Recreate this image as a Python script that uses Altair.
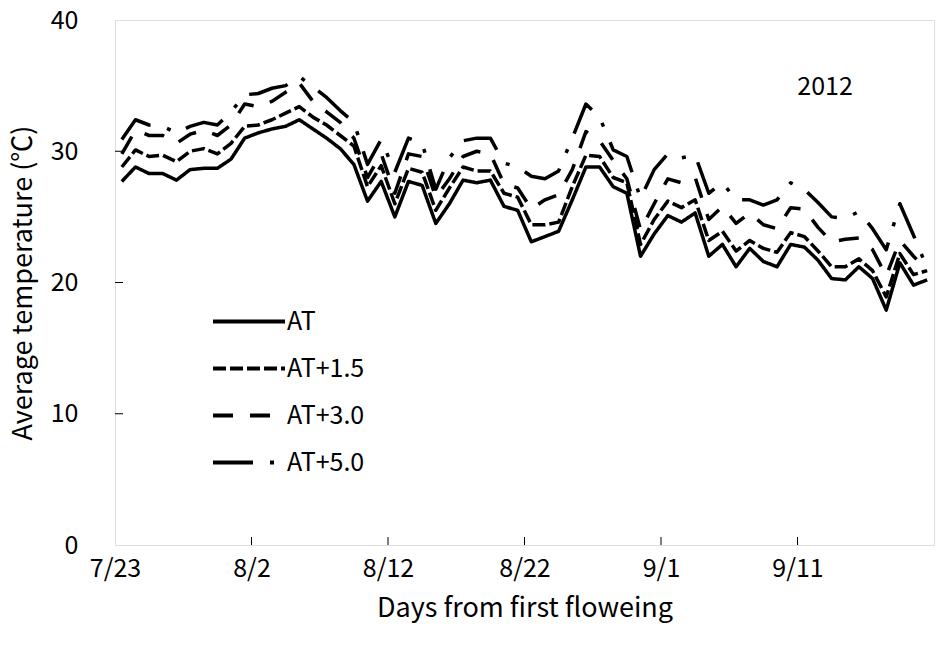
import altair as alt
import pandas as pd

FONT = "Noto Sans CJK KR"
FS = 25
TFS = 27

# ---- data ----
series_names = ["AT", "AT+1.5", "AT+3.0", "AT+5.0"]
tick_days = [0, 10, 20, 30, 40, 50]
tick_labels = ["7/23", "8/2", "8/12", "8/22", "9/1", "9/11"]
y_ticks = [0, 10, 20, 30, 40]
year_label = ["2012"]
days = list(range(60))

at = [27.7, 28.8, 28.3, 28.3, 27.8, 28.6, 28.7, 28.7, 29.4, 31.0,
      31.4, 31.7, 31.9, 32.4, 31.7, 31.0, 30.2, 29.0, 26.2, 27.7,
      25.0, 27.7, 27.4, 24.5, 26.0, 27.8, 27.6, 27.8, 25.8, 25.5,
      23.1, 23.5, 23.9, 26.3, 28.8, 28.8, 27.3, 26.8, 22.0, 23.7,
      25.1, 24.6, 25.3, 22.0, 22.9, 21.2, 22.6, 21.6, 21.2, 22.9,
      22.7, 21.7, 20.3, 20.2, 21.2, 20.3, 17.9, 21.5, 19.8, 20.2]

at15 = [28.8, 30.1, 29.6, 29.7, 29.2, 30.0, 30.2, 29.8, 30.6, 31.9,
        32.0, 32.4, 32.9, 33.4, 32.6, 32.0, 31.2, 30.4, 27.3, 28.9,
        26.0, 28.7, 28.4, 25.5, 27.2, 28.8, 28.5, 28.5, 26.8, 26.5,
        24.4, 24.4, 24.6, 27.3, 29.7, 29.6, 28.0, 27.6, 22.9, 24.8,
        26.2, 25.7, 26.3, 23.2, 23.9, 22.4, 23.2, 22.6, 22.3, 23.8,
        23.5, 22.4, 21.2, 21.2, 21.8, 20.9, 18.9, 22.2, 20.6, 20.9]

at30 = [29.8, 31.6, 31.2, 31.2, 30.6, 31.3, 31.6, 31.2, 32.0, 33.6,
        33.4, 33.8, 34.5, 35.2, 33.8, 33.0, 32.2, 31.0, 28.0, 29.8,
        26.8, 29.8, 29.6, 26.5, 27.9, 29.6, 30.0, 29.8, 27.5, 27.2,
        25.6, 26.3, 26.7, 28.6, 31.5, 30.8, 29.3, 27.9, 24.0, 26.0,
        27.9, 27.6, 28.0, 24.8, 25.8, 24.5, 25.3, 24.4, 24.1, 25.7,
        25.6, 24.2, 23.1, 23.3, 23.4, 22.5, 20.5, 23.2, 22.0, 20.9]

at50 = [30.9, 32.4, 32.0, 31.9, 31.4, 31.9, 32.2, 32.0, 33.0, 34.3,
        34.4, 34.8, 35.0, 35.7, 34.9, 34.1, 33.1, 32.2, 29.0, 30.9,
        28.4, 31.0, 30.6, 27.1, 29.5, 30.8, 31.0, 31.0, 29.1, 28.8,
        28.1, 27.9, 28.5, 31.0, 33.6, 32.6, 30.1, 29.6, 26.4, 28.6,
        29.8, 29.5, 29.7, 26.8, 27.6, 26.3, 26.3, 25.9, 26.3, 27.6,
        27.1, 26.1, 25.0, 24.9, 25.4, 24.1, 22.5, 26.0, 23.6, 21.1]

rows = []
for name, vals in zip(series_names, [at, at15, at30, at50]):
    for d, v in zip(days, vals):
        rows.append({"day": d + 0.5, "temp": v, "series": name})
df = pd.DataFrame(rows)

label_expr = "[" + ",".join("'" + s + "'" for s in tick_labels) + "][round(datum.value/10)]"

x_axis = alt.Axis(values=tick_days, labelExpr=label_expr, ticks=False, domain=False, grid=False,
                  labelFlush=False, labelOverlap=False,
                  labelFont=FONT, labelFontSize=FS, labelColor="black", labelPadding=11,
                  title="Days from first floweing", titleFont=FONT, titleFontSize=TFS,
                  titleFontWeight="normal", titleColor="black", titleX=409.5, titleY=63,
                  titleBaseline="middle", titleAnchor="middle")
y_axis = alt.Axis(values=y_ticks, ticks=False, domain=False, grid=False,
                  labelFont=FONT, labelFontSize=FS, labelColor="black", labelPadding=37,
                  title="Average temperature (℃)", titleFont=FONT, titleFontSize=TFS,
                  titleFontWeight="normal", titleColor="black", titleX=-92, titleY=262.5,
                  titleBaseline="middle", titleAnchor="middle")

x_scale = alt.Scale(domain=[0, 60], nice=False, zero=False)
y_scale = alt.Scale(domain=[0, 40], nice=False)

lines = alt.Chart(df).mark_line(color="black", strokeWidth=3.5, strokeJoin="round").encode(
    x=alt.X("day:Q", scale=x_scale, axis=x_axis),
    y=alt.Y("temp:Q", scale=y_scale, axis=y_axis),
    strokeDash=alt.StrokeDash(
        "series:N",
        scale=alt.Scale(domain=series_names,
                        range=[[1, 0], [13, 4], [20, 17], [40, 17, 4, 17]]),
        legend=alt.Legend(title=None, orient="none", legendX=96, legendY=278,
                          symbolType="stroke", symbolSize=5184, symbolStrokeWidth=4,
                          symbolStrokeColor="black", labelFont=FONT, labelFontSize=FS,
                          labelColor="black", labelOffset=0, rowPadding=0, clipHeight=47,
                          padding=0),
    ),
)

xt = alt.Chart(pd.DataFrame({"day": tick_days[1:]})).mark_rule(color="black", strokeWidth=1).encode(
    x=alt.X("day:Q", scale=x_scale, axis=x_axis), y=alt.value(517), y2=alt.value(525))
yt = alt.Chart(pd.DataFrame({"temp": y_ticks[1:-1]})).mark_rule(color="black", strokeWidth=1).encode(
    y=alt.Y("temp:Q", scale=y_scale, axis=y_axis), x=alt.value(0), x2=alt.value(8))

year = alt.Chart(pd.DataFrame({"label": year_label})).mark_text(
    font=FONT, fontSize=FS, color="black", align="center", baseline="middle").encode(
    text="label:N", x=alt.value(710), y=alt.value(67))

chart = alt.layer(lines, xt, yt, year).properties(
    width=819, height=525,
    autosize=alt.AutoSizeParams(type="none"),
    padding={"left": 115, "top": 20, "right": 5, "bottom": 100},
).configure_view(stroke="black", strokeWidth=2).configure(background="white")

chart.save("out.html", embed_options={"renderer": "svg", "actions": False})
